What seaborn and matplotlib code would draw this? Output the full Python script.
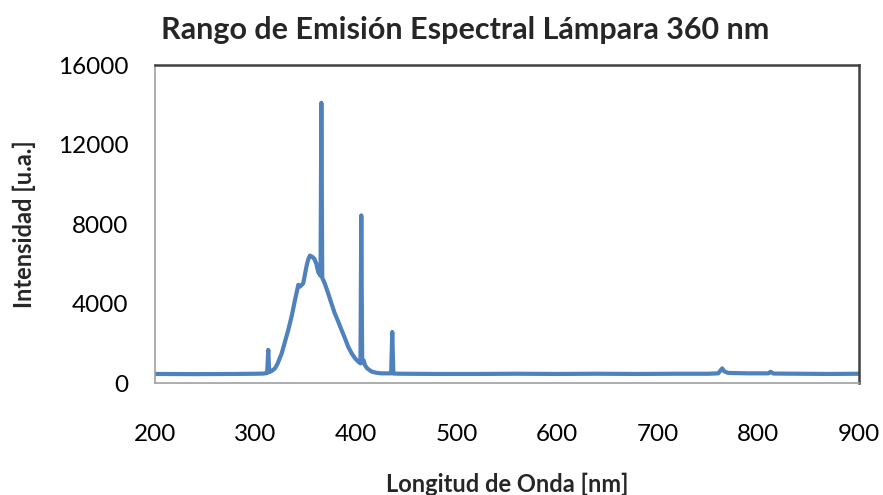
import matplotlib
matplotlib.use("Agg")
import matplotlib.pyplot as plt
import seaborn as sns
import pandas as pd

# Spectrum (wavelength in nm, intensity in a.u.)
wavelength = [200, 240, 280, 300, 308, 311.5, 312.6, 313.6, 316, 319.3, 322, 326, 329,
              332.5, 336, 339.2, 341, 342.5, 344.1, 346, 347.4, 349, 350.8, 352.5, 354.1,
              356.5, 358.4, 360.5, 362.3, 364.6, 365.4, 366.3, 368.7, 372, 375.4, 378.5,
              382.2, 385.5, 388.9, 392, 395.5, 399, 402.1, 404.3, 405.1, 406, 407.5,
              408.7, 411, 415.4, 420, 425, 434.8, 435.9, 437, 445, 480, 520, 560, 600,
              640, 680, 720, 750, 760, 764, 766, 770, 790, 810, 812, 815, 840, 870, 900]
intensity = [470, 460, 470, 480, 490, 520, 1680, 560, 620, 750, 1000, 1510, 2050,
             2680, 3400, 4190, 4600, 4950, 4860, 4950, 5030, 5450, 5920, 6250, 6420,
             6350, 6260, 6000, 5590, 5400, 14100, 5300, 5030, 4550, 4020, 3550,
             3100, 2680, 2260, 1850, 1510, 1250, 1090, 1000, 8440, 1050, 1150,
             920, 750, 590, 530, 500, 500, 2580, 490, 480, 470, 470, 480, 470,
             480, 470, 480, 480, 500, 750, 600, 520, 500, 500, 580, 490, 480, 470, 480]

df = pd.DataFrame({"Longitud": wavelength, "Intensidad": intensity})

sns.set_theme(style="white")
plt.rcParams["font.family"] = ["Lato", "DejaVu Sans"]

fig = plt.figure(figsize=(8.83, 4.95), dpi=100)
ax = fig.add_axes([155 / 883, 1 - 383.3 / 495, (859 - 155) / 883, (383.3 - 65) / 495])

sns.lineplot(data=df, x="Longitud", y="Intensidad", ax=ax, color="#4F81BD",
             linewidth=3.0, sort=False, estimator=None)

ax.set_xlim(200, 900)
ax.set_ylim(0, 16000)
ax.set_xticks([200, 300, 400, 500, 600, 700, 800, 900])
ax.set_yticks([0, 4000, 8000, 12000, 16000])
ax.set_xticklabels(["200", "300", "400", "500", "600", "700", "800", "900"])
ax.set_yticklabels(["0", "4000", "8000", "12000", "16000"])

ax.tick_params(axis="x", direction="out", length=5, width=1, color="#A0A0A0",
               labelsize=17.5, pad=24, labelcolor="black")
ax.tick_params(axis="y", direction="out", length=3, width=1, color="#A0A0A0",
               labelsize=17.5, pad=16, labelcolor="black")

for side in ["left", "bottom"]:
    ax.spines[side].set_color("#A0A0A0")
    ax.spines[side].set_linewidth(1.2)
for side in ["top", "right"]:
    ax.spines[side].set_color("#404040")
    ax.spines[side].set_linewidth(1.8)

ax.set_xlabel("Longitud de Onda [nm]", fontsize=17, fontweight="bold", labelpad=20)
ax.set_ylabel("Intensidad [u.a.]", fontsize=17, fontweight="bold", labelpad=16)
fig.text(465 / 883, 1 - 30 / 495, "Rango de Emisión Espectral Lámpara 360 nm",
         ha="center", va="center", fontsize=22, fontweight="bold")

ax.grid(False)
fig.savefig("out.png", dpi=100)
